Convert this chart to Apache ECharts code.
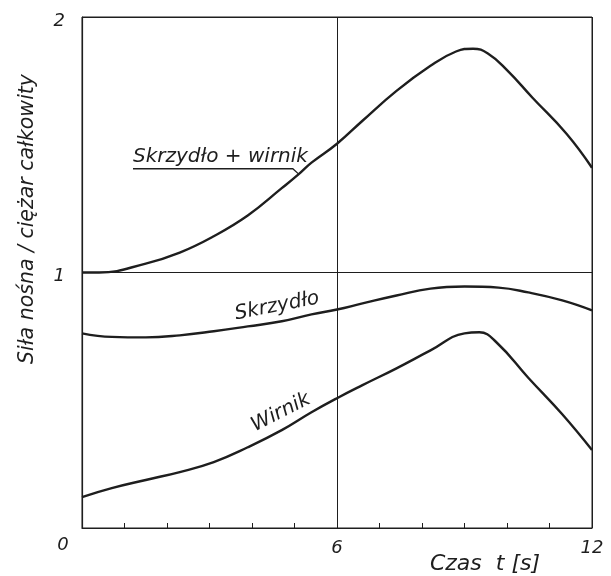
<!DOCTYPE html>
<html>
<head>
<meta charset="utf-8">
<script src="https://cdn.jsdelivr.net/npm/echarts@6/dist/echarts.min.js"></script>
<style>html,body{margin:0;padding:0;background:#fff}#c{width:611px;height:576px}</style>
</head>
<body>
<div id="c"></div>
<script>
// Data
var combinedT = [0, 0.4, 1.5, 2.3, 3.1, 3.9, 4.7, 5.1, 5.4, 6, 6.6, 7.4, 8.2, 8.8, 9.2, 9.55, 10, 10.6, 11.4, 12];
var combinedV = [1.0, 1.0, 1.035, 1.078, 1.142, 1.223, 1.33, 1.385, 1.43, 1.504, 1.594, 1.711, 1.809, 1.865, 1.876, 1.857, 1.792, 1.684, 1.543, 1.41];
var wingT = [0, 0.7, 1.5, 2.3, 3.1, 3.9, 4.7, 5.4, 6, 6.6, 7.4, 8.2, 9, 9.8, 10.5, 11.3, 12];
var wingV = [0.762, 0.748, 0.746, 0.754, 0.770, 0.789, 0.809, 0.836, 0.855, 0.879, 0.910, 0.937, 0.945, 0.941, 0.922, 0.891, 0.852];
var rotorT = [0, 0.7, 1.5, 2.3, 3.1, 3.9, 4.7, 5.4, 6, 6.6, 7.4, 8.2, 9, 9.35, 9.75, 10.5, 11.3, 12];
var rotorV = [0.121, 0.156, 0.188, 0.219, 0.258, 0.316, 0.383, 0.453, 0.508, 0.559, 0.625, 0.695, 0.762, 0.766, 0.727, 0.588, 0.445, 0.305];
var seriesNames = ['Skrzydło + wirnik', 'Skrzydło', 'Wirnik'];
var xTickLabels = {6: '6', 12: '12'};
var yTickLabels = {1: '1', 2: '2'};
var originLabel = '0';
var xTitle = 'Czas  t [s]';
var yTitle = 'Siła nośna / ciężar całkowity';

function pairs(t, v) { return t.map(function (x, i) { return [x, v[i]]; }); }

var FONT = 'DejaVu Sans';
var INK = '#1e1e1e';
var chart = echarts.init(document.getElementById('c'), null, {renderer: 'canvas'});
var lineStyle = {color: INK, width: 2.4};
chart.setOption({
  animation: false,
  backgroundColor: '#fff',
  grid: {left: 82, right: 19, top: 17, bottom: 48, show: true, borderColor: INK, borderWidth: 1, backgroundColor: 'transparent'},
  xAxis: {
    type: 'value', min: 0, max: 12, interval: 6,
    axisLine: {show: true, lineStyle: {color: INK, width: 1.2}},
    axisTick: {show: true, inside: true, length: 5, lineStyle: {color: INK}},
    minorTick: {show: true, splitNumber: 6, length: 5, lineStyle: {color: INK}},
    splitLine: {show: true, lineStyle: {color: INK, width: 1}},
    axisLabel: {
      margin: 11, color: INK, fontFamily: FONT, fontStyle: 'italic', fontSize: 18,
      formatter: function (v) { return xTickLabels[v] || ''; }
    }
  },
  yAxis: {
    type: 'value', min: 0, max: 2, interval: 1,
    axisLine: {show: true, lineStyle: {color: INK, width: 1.2}},
    axisTick: {show: false},
    splitLine: {show: true, lineStyle: {color: INK, width: 1}},
    axisLabel: {
      margin: 17, color: INK, fontFamily: FONT, fontStyle: 'italic', fontSize: 18,
      verticalAlign: 'top', padding: [-5, 0, 0, 0],
      formatter: function (v) { return yTickLabels[v] || ''; }
    }
  },
  series: [
    {name: seriesNames[0], type: 'line', data: pairs(combinedT, combinedV), smooth: 0.45, showSymbol: false, lineStyle: lineStyle},
    {name: seriesNames[1], type: 'line', data: pairs(wingT, wingV), smooth: 0.45, showSymbol: false, lineStyle: lineStyle},
    {name: seriesNames[2], type: 'line', data: pairs(rotorT, rotorV), smooth: 0.45, showSymbol: false, lineStyle: lineStyle}
  ]
});

function px(t, v) { return chart.convertToPixel({gridIndex: 0}, [t, v]); }
var textBase = {fill: INK, fontFamily: FONT, fontStyle: 'italic', fontSize: 20};
var pC = px(1.2, 1.452), u1 = px(1.2, 1.406), u2 = px(4.96, 1.406), u3 = px(5.1, 1.385);
var pW = px(4.59, 0.868), pR = px(4.68, 0.452), p0 = px(0, 0);
chart.setOption({
  graphic: [
    {type: 'text', x: pC[0], y: pC[1], style: Object.assign({text: seriesNames[0], align: 'left', verticalAlign: 'middle'}, textBase)},
    {type: 'polyline', shape: {points: [u1, u2, u3]}, style: {stroke: INK, lineWidth: 1.3, fill: null}},
    {type: 'text', x: pW[0], y: pW[1], rotation: 11 * Math.PI / 180, style: Object.assign({text: seriesNames[1], align: 'center', verticalAlign: 'middle'}, textBase)},
    {type: 'text', x: pR[0], y: pR[1], rotation: 27 * Math.PI / 180, style: Object.assign({text: seriesNames[2], align: 'center', verticalAlign: 'middle'}, textBase)},
    {type: 'text', x: p0[0] - 19, y: p0[1] + 17, style: Object.assign({text: originLabel, align: 'center', verticalAlign: 'middle'}, textBase, {fontSize: 18})},
    {type: 'text', x: 485, y: 564, style: Object.assign({text: xTitle, align: 'center', verticalAlign: 'middle'}, textBase, {fontSize: 22})},
    {type: 'text', x: 28, y: 219, rotation: Math.PI / 2, style: Object.assign({text: yTitle, align: 'center', verticalAlign: 'middle'}, textBase, {fontSize: 20.5})}
  ]
});
</script>
</body>
</html>
